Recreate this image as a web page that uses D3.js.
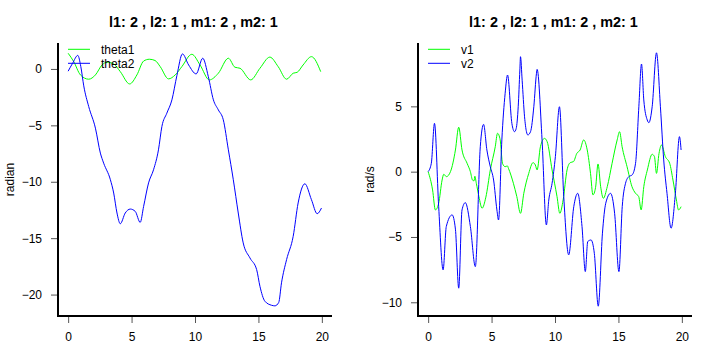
<!DOCTYPE html>
<html><head><meta charset="utf-8">
<script src="https://cdn.jsdelivr.net/npm/d3@7"></script>
<style>body{margin:0;background:#fff}svg{display:block}text{font-family:"Liberation Sans",Arial,Helvetica,sans-serif}</style>
</head><body>
<svg id="chart" width="720" height="360"></svg>
<script>
const titleText = "l1: 2 , l2: 1 , m1: 2 , m2: 1";
const xTicks = [0, 5, 10, 15, 20];
const leftYTicks = [0, -5, -10, -15, -20];
const rightYTicks = [5, 0, -5, -10];

const theta1T = [0,0.44,0.97,1.62,2.15,2.67,3.07,3.59,4.11,4.85,5.42,5.95,6.4,6.85,7.26,7.91,8.44,8.96,9.75,10.4,11.13,11.84,12.63,13.15,13.55,14.39,15.12,15.9,16.56,17.22,17.74,18.05,18.52,19.18,19.91];
const theta1 = [1.39,0.65,-0.53,-0.91,-0.53,0.35,0.6,0.45,-0.24,-1.33,-0.53,0.7,0.86,0.75,0.2,-0.88,-0.53,0.2,1.3,0.35,-0.97,-0.38,0.95,0.15,0.06,-0.97,0.06,1.05,0.2,-0.91,-0.38,-0.3,0.35,1.09,-0.24];

const theta2T = [0,0.35,0.76,1.0,1.23,1.62,2.15,2.54,2.8,3.33,3.59,3.85,4.11,4.5,4.9,5.29,5.68,5.95,6.34,6.73,7.12,7.39,7.78,8.18,8.57,9.01,9.5,10.09,10.61,11.05,11.45,11.84,12.23,12.63,13.02,13.41,13.8,14.33,14.86,15.12,15.51,16.04,16.3,16.6,16.82,17.22,17.74,18.13,18.66,19.18,19.63,19.97];
const theta2 = [-0.2,0.5,1.2,0.2,-1.5,-3.33,-5.25,-7.46,-8.35,-9.82,-11.0,-12.77,-13.72,-12.77,-12.42,-12.63,-13.6,-12.18,-10.1,-8.94,-7.17,-5.1,-3.92,-2.74,-0.6,1.33,0.35,-0.44,0.95,-0.68,-2.74,-3.63,-4.51,-7.17,-9.82,-12.77,-15.42,-16.75,-17.79,-19.27,-20.59,-20.95,-21.0,-20.7,-18.96,-16.9,-14.84,-11.88,-10.18,-11.59,-12.83,-12.33];

const v1T = [0,0.35,0.57,0.83,1.1,1.23,1.44,1.76,2.15,2.41,2.67,3.07,3.33,3.5,3.62,3.68,3.8,4.0,4.25,4.55,4.9,5.29,5.47,5.68,5.86,6.07,6.25,6.33,6.72,6.99,7.28,7.54,7.93,8.27,8.45,8.59,8.85,9.17,9.38,9.77,10.16,10.38,10.64,10.95,11.2,11.46,11.72,11.98,12.26,12.54,12.8,12.99,13.2,13.39,13.6,13.81,14.12,14.5,14.9,15.09,15.29,15.68,16.07,16.35,16.6,16.79,17.0,17.28,17.66,17.84,18.0,18.2,18.4,18.7,19.04,19.3,19.57,19.74,19.94];
const v1 = [0,-1.4,-2.93,-2.42,-0.64,-0.2,-0.38,0,1.66,3.4,1.66,0.64,0,-0.65,-0.7,-0.35,-0.9,-1.9,-2.8,-1.95,0.13,1.91,2.94,2.43,0.64,0.38,0.44,0.26,-0.89,-1.91,-3.19,-1.66,-0.13,0.69,0.51,0.13,1.91,2.55,2.3,0.13,-1.91,-3.19,-2.17,0.13,0.69,0.77,1.4,1.66,2.43,1.66,-0.13,-1.78,-1.2,0.59,-1.15,-2.04,-1.15,0.64,2.43,3.06,1.91,0.38,-1.15,-1.66,-1.91,-2.93,-1.15,0.13,1.33,1.15,-0.13,1.4,2.04,1.15,0.64,-0.64,-2.17,-2.93,-2.68];

const v2T = [0,0.25,0.5,0.83,1.18,1.43,1.89,2.15,2.41,2.67,2.93,3.33,3.72,4.11,4.37,4.63,4.9,5.16,5.42,5.55,5.81,6.07,6.26,6.6,6.81,6.94,7.1,7.23,7.28,7.41,7.6,7.75,7.86,8.07,8.33,8.54,8.59,8.98,9.32,9.51,9.77,10.03,10.35,10.69,11.08,11.48,11.79,12.13,12.39,12.58,12.84,13.1,13.41,13.74,14.0,14.38,14.7,15.04,15.3,15.56,15.82,16.08,16.35,16.61,16.82,17.0,17.27,17.4,17.66,18.0,18.31,18.57,18.83,19.15,19.49,19.81,19.94];
const v2 = [0,0.64,3.7,-2.68,-7.52,-4.2,-3.31,-4.4,-8.92,-2.93,-2.37,-4.2,-7.27,1.91,3.62,1.66,0.38,-0.64,-2.93,-3.7,2.43,6.0,7.4,3.7,3.06,3.3,4.97,7.78,8.8,7.0,4.2,3.06,2.81,3.06,4.97,7.53,7.83,2.43,-4.08,-2.17,-0.89,1.15,4.97,-1.91,-6.37,-2.68,-1.66,-4.2,-7.65,-5.35,-5.23,-6.25,-10.3,-4.71,-2.42,-1.66,-3.19,-7.65,-2.68,-0.89,-0.38,-0.25,0.64,4.97,8.24,5.49,3.96,3.75,4.97,9.1,4.97,0.9,-1.66,-4.33,-1.66,2.68,1.66];

const svg = d3.select("#chart");
const GREEN = "#00ff00", BLUE = "#0000ff";

function panel(opt) {
  const x = d3.scaleLinear().domain([-0.8, 20.8]).range([opt.x0, opt.x0 + 274]);
  const y = d3.scaleLinear().domain(opt.yDomain).range([316, 43]);
  const g = svg.append("g");
  g.append("text").attr("x", opt.x0 + 135.5).attr("y", 27).attr("text-anchor", "middle")
    .attr("font-weight", "bold").attr("font-size", 14.4).text(titleText);
  const mk = d3.line().x(d => x(d[0])).y(d => y(d[1])).curve(d3.curveMonotoneX);
  opt.series.forEach(s => {
    g.append("path").datum(d3.zip(s.t, s.v)).attr("d", mk)
      .attr("fill", "none").attr("stroke", s.color).attr("stroke-width", 1);
  });
  // axes
  const yAx = g.append("g").attr("transform", `translate(${opt.x0},0)`)
    .call(d3.axisLeft(y).tickValues(opt.yTicks).tickSize(7).tickPadding(9).tickFormat(d3.format("d")));
  const xAx = g.append("g").attr("transform", "translate(0,316)")
    .call(d3.axisBottom(x).tickValues(xTicks).tickSize(7).tickPadding(9).tickFormat(d3.format("d")));
  [yAx, xAx].forEach(a => {
    a.select(".domain").remove();
    a.selectAll(".tick line").attr("stroke", "#555");
    a.selectAll(".tick text").attr("font-size", 12).attr("fill", "#000")
      .style("font-family", '"Liberation Sans",Arial,sans-serif');
  });
  xAx.selectAll(".tick text").attr("dy", "0.72em");
  g.append("path").attr("d", `M${opt.x0},43V316H${opt.x0 + 274}`)
    .attr("fill", "none").attr("stroke", "#000").attr("stroke-width", 2);
  g.append("text").attr("transform", `translate(${opt.x0 - 44.5},179.5) rotate(-90)`)
    .attr("text-anchor", "middle").attr("font-size", 12).text(opt.ylab);
  // legend
  opt.series.forEach((s, i) => {
    const ly = 49.3 + i * 14;
    g.append("line").attr("x1", opt.x0 + 10).attr("x2", opt.x0 + 32).attr("y1", ly).attr("y2", ly)
      .attr("stroke", s.color).attr("stroke-width", 1);
    g.append("text").attr("x", opt.x0 + 43).attr("y", ly + 4.3).attr("font-size", 12).text(s.name);
  });
}

panel({x0: 58, yDomain: [-21.9, 2.3], yTicks: leftYTicks, ylab: "radian",
  series: [{name: "theta1", t: theta1T, v: theta1, color: GREEN}, {name: "theta2", t: theta2T, v: theta2, color: BLUE}]});
panel({x0: 418, yDomain: [-11.05, 9.85], yTicks: rightYTicks, ylab: "rad/s",
  series: [{name: "v1", t: v1T, v: v1, color: GREEN}, {name: "v2", t: v2T, v: v2, color: BLUE}]});
</script>
</body></html>
